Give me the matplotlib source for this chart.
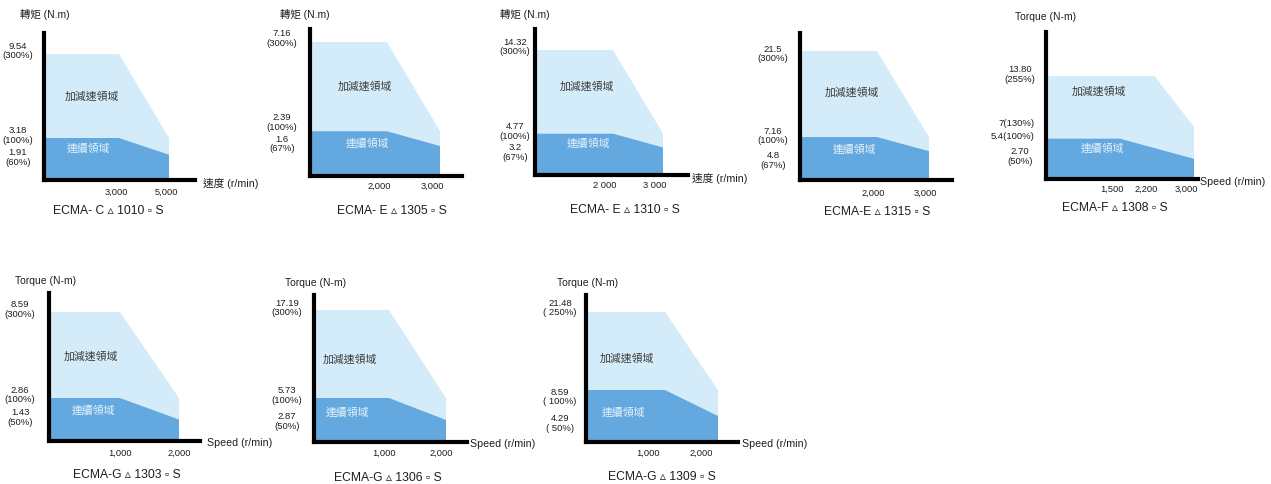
import matplotlib
matplotlib.use("Agg")
import matplotlib.pyplot as plt

plt.rcParams['font.family'] = ['Liberation Sans', 'DejaVu Sans', 'Noto Sans CJK TC']

# ------------------------- data -------------------------
models = ["ECMA- C \u25b5 1010 \u25ab S", "ECMA- E \u25b5 1305 \u25ab S", "ECMA- E \u25b5 1310 \u25ab S",
          "ECMA-E \u25b5 1315 \u25ab S", "ECMA-F \u25b5 1308 \u25ab S", "ECMA-G \u25b5 1303 \u25ab S",
          "ECMA-G \u25b5 1306 \u25ab S", "ECMA-G \u25b5 1309 \u25ab S"]
peak_torque = [9.54, 7.16, 14.32, 21.5, 13.80, 8.59, 17.19, 21.48]
peak_end_torque = [3.18, 2.39, 4.77, 7.16, 7.0, 2.86, 5.73, 8.59]
rated_torque = [3.18, 2.39, 4.77, 7.16, 5.4, 2.86, 5.73, 8.59]
rated_end_torque = [1.91, 1.6, 3.2, 4.8, 2.70, 1.43, 2.87, 4.29]
peak_knee_speed = [3000, 2000, 2000, 2000, 2200, 1000, 1000, 1000]
rated_knee_speed = [3000, 2000, 2000, 2000, 1500, 1000, 1000, 1000]
max_speed = [5000, 3000, 3000, 3000, 3000, 2000, 2000, 2000]

torque_titles = ["轉矩 (N.m)", "轉矩 (N.m)", "轉矩 (N.m)", "", "Torque (N-m)",
                 "Torque (N-m)", "Torque (N-m)", "Torque (N-m)"]
speed_titles = ["速度 (r/min)", "", "速度 (r/min)", "", "Speed (r/min)",
                "Speed (r/min)", "Speed (r/min)", "Speed (r/min)"]
torque_tick_values = [[9.54, 3.18, 1.91], [7.16, 2.39, 1.6], [14.32, 4.77, 3.2], [21.5, 7.16, 4.8],
                      [13.80, 7.0, 5.4, 2.70], [8.59, 2.86, 1.43], [17.19, 5.73, 2.87], [21.48, 8.59, 4.29]]
torque_tick_labels = [["9.54\n(300%)", "3.18\n(100%)", "1.91\n(60%)"],
                      ["7.16\n(300%)", "2.39\n(100%)", "1.6\n(67%)"],
                      ["14.32\n(300%)", "4.77\n(100%)", "3.2\n(67%)"],
                      ["21.5\n(300%)", "7.16\n(100%)", "4.8\n(67%)"],
                      ["13.80\n(255%)", "7(130%)", "5.4(100%)", "2.70\n(50%)"],
                      ["8.59\n(300%)", "2.86\n(100%)", "1.43\n(50%)"],
                      ["17.19\n(300%)", "5.73\n(100%)", "2.87\n(50%)"],
                      ["21.48\n( 250%)", "8.59\n( 100%)", "4.29\n( 50%)"]]
speed_tick_values = [[3000, 5000], [2000, 3000], [2000, 3000], [2000, 3000],
                     [1500, 2200, 3000], [1000, 2000], [1000, 2000], [1000, 2000]]
speed_tick_labels = [["3,000", "5,000"], ["2,000", "3,000"], ["2 000", "3 000"], ["2,000", "3,000"],
                     ["1,500", "2,200", "3,000"], ["1,000", "2,000"], ["1,000", "2,000"], ["1,000", "2,000"]]
accel_label = "加減速領域"
cont_label = "連續領域"

# ------------------------- layout (pixels, y down) -------------------------
W, H = 1271, 484
# spine_x, spine_y, top_y, right_x, fill_top_y, knee_px, end_px
frames = [
    (43.5, 180, 33, 195, 54, 119, 169),
    (309.5, 176, 29, 462, 42, 387, 440),
    (535, 175.5, 29, 688, 50, 613, 663),
    (800, 180, 33, 952, 51, 877, 929),
    (1046, 179, 32, 1198, 76, 1120, 1194),
    (49, 441, 293, 200, 312, 120, 179),
    (314, 442, 295, 467, 310, 389, 446),
    (586, 442, 295, 738, 312, 665, 718),
]
ylab_dx = [-25.5, -27.5, -20, -27, -26, -29, -27, -26]
ylab_nudge = [[-3, -2.5, 3], [-3.5, -8.5, -2], [-3, -2.5, 5], [3, -1, 9.5],
              [-1.5, -3, -2, -2], [-2.5, -3, -2], [-2, -2.5, 1.5], [-4, 7, 7.5]]
xlab_dx = [-3, -8, -8, -4, -8, 0, -5, -17]
xlab_dy = [12, 10, 10.5, 13, 10, 12, 11, 11]
accel_pos = [(92, 97), (365, 87), (587, 87), (852, 93), (1099, 92), (91, 357), (350, 360), (627, 359)]
cont_pos = [(88, 148), (367, 143), (588, 143), (854, 149), (1102, 148), (93, 410), (347, 412), (623, 412)]
title_pos = [(20, 15), (280, 15), (500, 15), None, (1015, 17), (15, 281), (285, 283), (557, 283)]
xtitle_pos = [(203, 183), None, (692, 178), None, (1200, 182), (207, 443), (470, 444), (742, 444)]
model_pos = [(108, 211), (392, 211), (625, 210), (877, 212), (1115, 208), (127, 475), (388, 478), (662, 477)]

LIGHT = "#d4ecf9"
DARK = "#63a8de"
TXT = "#1e1e1e"

fig = plt.figure(figsize=(W / 100, H / 100), dpi=100)


def ftext(px, py, s, **kw):
    fig.text(px / W, 1 - py / H, s, **kw)


for i in range(8):
    sx, sy, ty, rx, fy, kpx, epx = frames[i]
    ax = fig.add_axes([sx / W, 1 - sy / H, (rx - sx) / W, (sy - ty) / H])
    # x mapping
    b = (epx - kpx) / (max_speed[i] - rated_knee_speed[i])
    x0 = rated_knee_speed[i] - (kpx - sx) / b
    x1 = x0 + (rx - sx) / b
    py = (sy - fy) / peak_torque[i]
    y1 = (sy - ty) / py
    ax.set_xlim(x0, x1)
    ax.set_ylim(0, y1)

    ax.fill([x0, peak_knee_speed[i], max_speed[i], max_speed[i], x0],
            [peak_torque[i], peak_torque[i], peak_end_torque[i], 0, 0],
            color=LIGHT, lw=0, zorder=1)
    ax.fill([x0, rated_knee_speed[i], max_speed[i], max_speed[i], x0],
            [rated_torque[i], rated_torque[i], rated_end_torque[i], 0, 0],
            color=DARK, lw=0, zorder=2)

    for side in ("top", "right"):
        ax.spines[side].set_visible(False)
    for side in ("left", "bottom"):
        ax.spines[side].set_linewidth(3.0)
        ax.spines[side].set_color("black")
        ax.spines[side].set_capstyle("projecting")
        ax.spines[side].set_zorder(5)
    ax.set_xticks([])
    ax.set_yticks([])
    ax.patch.set_visible(False)

    # torque labels
    for v, lab, nd in zip(torque_tick_values[i], torque_tick_labels[i], ylab_nudge[i]):
        if "\n" in lab:
            ha, dx = "center", ylab_dx[i]
        else:
            ha, dx = "right", ylab_dx[i] + 15
        ax.annotate(lab, xy=(0, v), xycoords=("axes fraction", "data"),
                    xytext=(dx, -nd), textcoords="offset pixels",
                    ha=ha, va="center", fontsize=6.8, color=TXT, linespacing=1.12,
                    annotation_clip=False)
    # speed labels
    for v, lab in zip(speed_tick_values[i], speed_tick_labels[i]):
        ax.annotate(lab, xy=(v, 0), xycoords=("data", "axes fraction"),
                    xytext=(xlab_dx[i], -xlab_dy[i]), textcoords="offset pixels",
                    ha="center", va="center", fontsize=6.7, color=TXT,
                    annotation_clip=False)

    ftext(*accel_pos[i], accel_label, ha="center", va="center", fontsize=7.8, color="#3a3a3a")
    ftext(*cont_pos[i], cont_label, ha="center", va="center", fontsize=7.8, color="#e6f2fb")
    if title_pos[i] is not None:
        ftext(*title_pos[i], torque_titles[i], ha="left", va="center", fontsize=7.5, color=TXT)
    if xtitle_pos[i] is not None:
        ftext(*xtitle_pos[i], speed_titles[i], ha="left", va="center", fontsize=7.7, color=TXT)
    ftext(*model_pos[i], models[i], ha="center", va="center", fontsize=8.7, color=TXT)

fig.savefig("out.png", dpi=100, facecolor="white")
